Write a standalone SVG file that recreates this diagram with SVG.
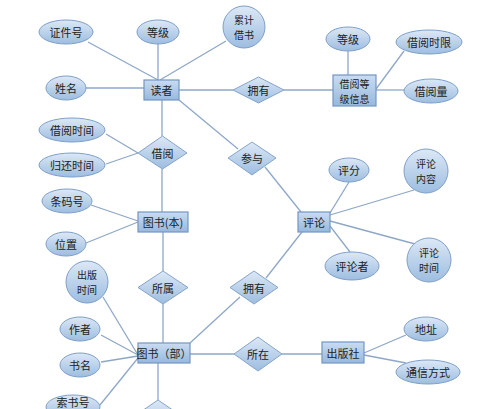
<svg xmlns="http://www.w3.org/2000/svg" width="500" height="409" viewBox="0 0 500 409">
<defs>
<linearGradient id="g" x1="0" y1="0" x2="0" y2="1">
<stop offset="0" stop-color="#dce8f6"/>
<stop offset="1" stop-color="#9dbde0"/>
</linearGradient>
<linearGradient id="gr" x1="0" y1="0" x2="0" y2="1">
<stop offset="0" stop-color="#c9dcf1"/>
<stop offset="1" stop-color="#97b8dd"/>
</linearGradient>
</defs>
<style>
.e{fill:url(#g);stroke:#7f9fc8;stroke-width:1}
.r{fill:url(#gr);stroke:#7396c4;stroke-width:1.2}
.d{fill:url(#g);stroke:#86a4cb;stroke-width:1}
.c line{stroke:#8ea7c8;stroke-width:1.3}
text{font-family:"Noto Sans CJK SC","Liberation Sans",sans-serif;font-size:11px;fill:#222;text-anchor:middle;dominant-baseline:central}
text.t{font-size:10px}
</style>
<rect width="500" height="409" fill="#fff"/>
<g class="c" id="connectors">
<line x1="88" y1="42" x2="158" y2="80"/>
<line x1="158" y1="44" x2="158" y2="80"/>
<line x1="226" y1="41" x2="160" y2="80"/>
<line x1="86" y1="88" x2="144" y2="88"/>
<line x1="179" y1="90" x2="233" y2="90"/>
<line x1="284" y1="90" x2="333" y2="90"/>
<line x1="348" y1="51" x2="348" y2="75"/>
<line x1="404" y1="51" x2="376" y2="89"/>
<line x1="404" y1="90" x2="376" y2="90"/>
<line x1="179" y1="100" x2="238" y2="149"/>
<line x1="265" y1="167" x2="301" y2="212"/>
<line x1="162" y1="100" x2="162" y2="136"/>
<line x1="106" y1="134" x2="138" y2="153"/>
<line x1="106" y1="164" x2="138" y2="153"/>
<line x1="162" y1="169" x2="162" y2="212"/>
<line x1="91" y1="205" x2="138" y2="221"/>
<line x1="86" y1="243" x2="138" y2="222"/>
<line x1="163" y1="232" x2="163" y2="271"/>
<line x1="163" y1="304" x2="163" y2="343"/>
<line x1="103" y1="297" x2="138" y2="355"/>
<line x1="101" y1="335" x2="138" y2="355"/>
<line x1="101" y1="362" x2="138" y2="356"/>
<line x1="100" y1="405" x2="138" y2="358"/>
<line x1="190" y1="343" x2="240" y2="297"/>
<line x1="266" y1="278" x2="302" y2="232"/>
<line x1="190" y1="354" x2="234" y2="354"/>
<line x1="282" y1="354" x2="322" y2="354"/>
<line x1="364" y1="353" x2="406" y2="335"/>
<line x1="364" y1="355" x2="406" y2="363"/>
<line x1="158" y1="363" x2="158" y2="400"/>
<line x1="330" y1="213" x2="349" y2="182"/>
<line x1="330" y1="215" x2="414" y2="190"/>
<line x1="330" y1="221" x2="415" y2="244"/>
<line x1="330" y1="226" x2="350" y2="252"/>
</g>
<g id="zhengjianhao"><ellipse class="e" cx="66" cy="32" rx="27" ry="12"/><text x="66" y="32">证件号</text></g>
<g id="dengji1"><ellipse class="e" cx="158" cy="32" rx="21" ry="12"/><text x="158" y="32">等级</text></g>
<g id="leiji"><circle class="e" cx="244" cy="27" r="21"/><text class="t" x="244" y="19.5">累计</text><text class="t" x="244" y="34.5">借书</text></g>
<g id="xingming"><ellipse class="e" cx="66" cy="88" rx="20" ry="12"/><text x="66" y="88">姓名</text></g>
<g id="duzhe"><rect class="r" x="144" y="80" width="35" height="20"/><text x="161.5" y="90">读者</text></g>
<g id="yongyou1"><polygon class="d" points="233,90 258.5,77 284,90 258.5,103"/><text x="258.5" y="90">拥有</text></g>
<g id="dengjixinxi"><rect class="r" x="333" y="75" width="43" height="31"/><text class="t" x="354.5" y="83">借阅等</text><text class="t" x="354.5" y="98">级信息</text></g>
<g id="dengji2"><ellipse class="e" cx="348" cy="39" rx="22" ry="12"/><text x="348" y="39">等级</text></g>
<g id="jieyueshixian"><ellipse class="e" cx="429" cy="42" rx="33" ry="12"/><text x="429" y="42">借阅时限</text></g>
<g id="jieyueliang"><ellipse class="e" cx="431" cy="91" rx="27" ry="12"/><text x="431" y="91">借阅量</text></g>
<g id="jieyueshijian"><ellipse class="e" cx="72" cy="130" rx="33" ry="12"/><text x="72" y="130">借阅时间</text></g>
<g id="guihuanshijian"><ellipse class="e" cx="72" cy="165" rx="33" ry="12"/><text x="72" y="165">归还时间</text></g>
<g id="jieyue"><polygon class="d" points="138,153 162.5,136 187,153 162.5,169"/><text x="162.5" y="153">借阅</text></g>
<g id="canyu"><polygon class="d" points="228,158 252,142 276,158 252,175"/><text x="252" y="158">参与</text></g>
<g id="pingfen"><ellipse class="e" cx="349" cy="170" rx="20" ry="12"/><text x="349" y="170">评分</text></g>
<g id="pinglunneirong"><circle class="e" cx="426" cy="171" r="22"/><text class="t" x="426" y="163.5">评论</text><text class="t" x="426" y="178.5">内容</text></g>
<g id="pinglun"><rect class="r" x="298" y="212" width="32" height="20"/><text x="314" y="222">评论</text></g>
<g id="pinglunzhe"><ellipse class="e" cx="352" cy="266" rx="27" ry="14"/><text x="352" y="266">评论者</text></g>
<g id="pinglunshijian"><circle class="e" cx="429" cy="260" r="22"/><text class="t" x="429" y="252.5">评论</text><text class="t" x="429" y="267.5">时间</text></g>
<g id="tiaomahao"><ellipse class="e" cx="67" cy="201" rx="25" ry="12"/><text x="67" y="201">条码号</text></g>
<g id="weizhi"><ellipse class="e" cx="66" cy="244" rx="20" ry="12"/><text x="66" y="244">位置</text></g>
<g id="tushuben"><rect class="r" x="138" y="212" width="50" height="20"/><text x="163" y="222">图书(本)</text></g>
<g id="suoshu"><polygon class="d" points="138,287.5 163,271 188,287.5 163,304"/><text x="163" y="287.5">所属</text></g>
<g id="chubanshijian"><circle class="e" cx="87" cy="282" r="21"/><text class="t" x="87" y="274.5">出版</text><text class="t" x="87" y="289.5">时间</text></g>
<g id="zuozhe"><ellipse class="e" cx="80" cy="329" rx="20" ry="12"/><text x="80" y="329">作者</text></g>
<g id="shuming"><ellipse class="e" cx="80" cy="365" rx="20" ry="12"/><text x="80" y="365">书名</text></g>
<g id="suoshuhao"><ellipse class="e" cx="73" cy="407" rx="27" ry="12"/><text x="73" y="402">索书号</text></g>
<g id="tushubu"><rect class="r" x="138" y="343" width="52" height="20"/><text x="164" y="353">图书（部）</text></g>
<g id="bottomdiamond"><polygon class="d" points="133,417 158,400 183,417 158,434"/></g>
<g id="yongyou2"><polygon class="d" points="230,287.5 254,271 278,287.5 254,304"/><text x="254" y="287.5">拥有</text></g>
<g id="suozai"><polygon class="d" points="234,354 258,337 282,354 258,371"/><text x="258" y="354">所在</text></g>
<g id="chubanshe"><rect class="r" x="322" y="342" width="42" height="21"/><text x="343" y="352.5">出版社</text></g>
<g id="dizhi"><ellipse class="e" cx="426" cy="329" rx="22" ry="12"/><text x="426" y="329">地址</text></g>
<g id="tongxinfangshi"><ellipse class="e" cx="428" cy="372" rx="32" ry="12"/><text x="428" y="372">通信方式</text></g>
</svg>
